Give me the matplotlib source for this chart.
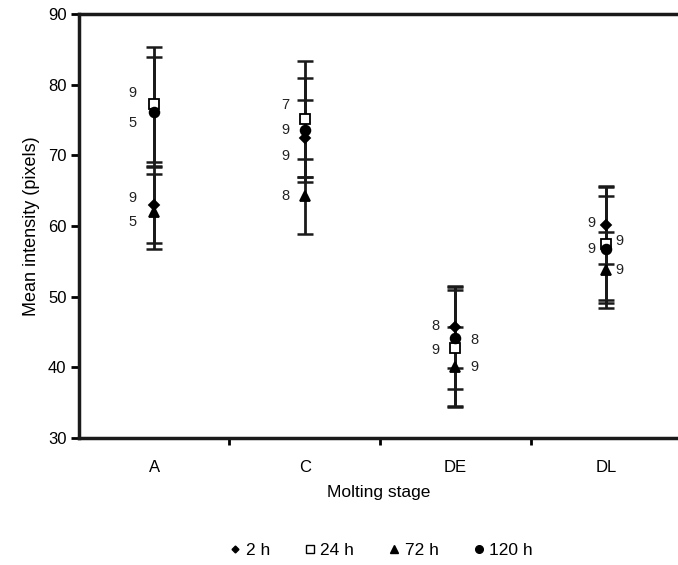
import numpy as np
import matplotlib
matplotlib.use('Agg')
import matplotlib.pyplot as plt
from matplotlib.lines import Line2D

plt.rcParams['font.family'] = ['Liberation Sans', 'DejaVu Sans']

# Dữ liệu
stages = ['A', 'C', 'DE', 'DL']
series = ['2 h', '24 h', '72 h', '120 h']
mean_2h = [63.0, 72.4, 45.7, 60.1]
mean_24h = [77.2, 75.1, 42.7, 57.5]
mean_72h = [62.0, 64.2, 40.1, 53.8]
mean_120h = [76.2, 73.6, 44.2, 56.7]
err_2h = [5.4, 5.4, 5.8, 5.5]
err_24h = [8.1, 8.2, 8.3, 8.0]
err_72h = [5.3, 5.3, 5.6, 5.4]
err_120h = [7.7, 7.4, 7.2, 7.6]
n_2h = ['9', '9', '8', '9']
n_24h = ['9', '7', '9', '9']
n_72h = ['5', '8', '9', '9']
n_120h = ['5', '9', '8', '9']

means = [mean_2h, mean_24h, mean_72h, mean_120h]
errs = [err_2h, err_24h, err_72h, err_120h]
ns = [n_2h, n_24h, n_72h, n_120h]
markers = ['D', 's', '^', 'o']
msizes = [5, 7, 7, 7]
faces = ['black', 'white', 'black', 'black']

# vị trí nhãn n (offset theo điểm), [chuỗi][giai đoạn]
label_off = [
    [(-16, 5), (-14, -13), (-14, 1), (-10, 2)],   # 2 h
    [(-16, 8), (-14, 10), (-14, -1), (10, 2)],    # 24 h
    [(-16, -7), (-14, 0), (14, 0), (10, 0)],      # 72 h
    [(-16, -8), (-14, 0), (14, -2), (-10, 0)],    # 120 h
]

fig = plt.figure(figsize=(6.78, 5.65), dpi=100)
ax = fig.add_axes([0.1165, 0.2248, 0.8835, 0.7504])

x = np.arange(1, len(stages) + 1)
for i in range(4):
    ax.errorbar(x, means[i], yerr=errs[i], fmt='none', ecolor='#1a1a1a',
                elinewidth=2, capsize=6, capthick=1.8, zorder=2)
for i in range(4):
    ax.plot(x, means[i], linestyle='none', marker=markers[i], markersize=msizes[i],
            markerfacecolor=faces[i], markeredgecolor='black', markeredgewidth=1.3,
            zorder=3)
    for j in range(len(stages)):
        dx, dy = label_off[i][j]
        ax.annotate(ns[i][j], (x[j], means[i][j]), xytext=(dx, dy),
                    textcoords='offset points', ha='center', va='center',
                    fontsize=10.5, color='#222222')

ax.set_xlim(0.5, 4.48)
ax.set_ylim(30, 90)
ax.set_yticks(np.arange(30, 91, 10))

# ranh giới nhóm trên trục x
ax.set_xticks(x[:-1] + 0.5)
ax.set_xticklabels([])
ax.set_xticks(x, minor=True)
ax.set_xticklabels(stages, minor=True)
ax.tick_params(axis='x', which='minor', length=0, pad=16, labelsize=12)
ax.tick_params(axis='x', which='major', direction='out', length=5, width=2)
ax.tick_params(axis='y', direction='out', length=6, width=2, labelsize=12, pad=3)

for side in ['left', 'bottom', 'top']:
    ax.spines[side].set_linewidth(2.5)
    ax.spines[side].set_color('#1a1a1a')
ax.spines['right'].set_visible(False)

ax.set_ylabel('Mean intensity (pixels)', fontsize=13, labelpad=6)
ax.set_xlabel('Molting stage', fontsize=12.5, labelpad=7)

handles = [Line2D([], [], linestyle='none', marker=markers[i],
                  markersize=msizes[i] - 1.5, markerfacecolor=faces[i],
                  markeredgecolor='black', markeredgewidth=1)
           for i in range(4)]
fig.legend(handles, series, loc='lower center', bbox_to_anchor=(0.56, -0.015),
           ncol=4, frameon=False, fontsize=12.5, handletextpad=0.1,
           columnspacing=1.8, handlelength=1)

plt.savefig('out.png', dpi=100)
